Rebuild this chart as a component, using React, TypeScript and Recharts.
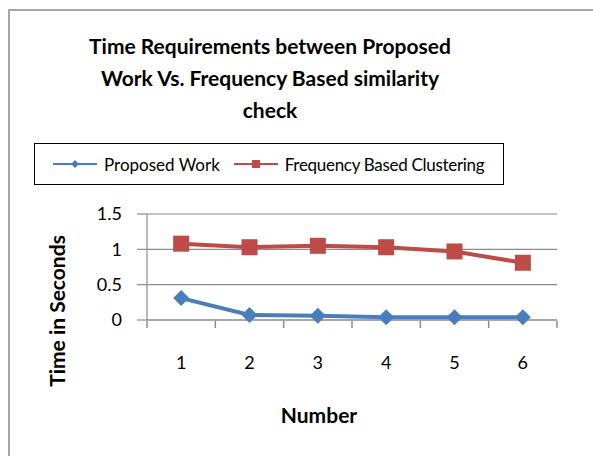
import React from "react";
import { CartesianGrid, Label, Line, LineChart, XAxis, YAxis } from "recharts";

// Values
const numbers = [1, 2, 3, 4, 5, 6];
const proposedWork = [0.31, 0.07, 0.06, 0.04, 0.04, 0.04];
const frequencyBased = [1.08, 1.03, 1.05, 1.03, 0.97, 0.81];
const yTicks = [0, 0.5, 1, 1.5];
const xBoundaries = [0.5, 1.5, 2.5, 3.5, 4.5, 5.5, 6.5];

const FONT = "Lato, 'Open Sans', sans-serif";
const BLUE = "#4a7ebb";
const RED = "#be4b48";
const GRID = "#8c8c8c";

const data = numbers.map((n, i) => ({
  n,
  proposed: proposedWork[i],
  frequency: frequencyBased[i],
}));

const Diamond = (props: any) => {
  const { cx, cy, size = 8, fill } = props;
  if (cx == null || cy == null) return null;
  return (
    <path
      d={`M${cx},${cy - size} L${cx + size},${cy} L${cx},${cy + size} L${cx - size},${cy} Z`}
      fill={fill}
    />
  );
};

const Square = (props: any) => {
  const { cx, cy, size = 8, fill } = props;
  if (cx == null || cy == null) return null;
  return <rect x={cx - size} y={cy - size} width={size * 2} height={size * 2} fill={fill} />;
};

// rotated y-axis title, sitting a bit lower than the plot centre like the original
const YTitle = (props: any) => {
  const vb = props.viewBox || {};
  const x = vb.x + 19;
  const y = vb.y + vb.height / 2 + 44;
  return (
    <text
      x={x}
      y={y}
      transform={`rotate(-90, ${x}, ${y})`}
      textAnchor="middle"
      dominantBaseline="central"
      fill="#000"
      fontSize={21}
      fontWeight={700}
      fontFamily={FONT}
    >
      Time in Seconds
    </text>
  );
};

const LegendBox = () => (
  <div
    style={{
      position: "absolute",
      left: 34,
      top: 143,
      width: 470,
      height: 42,
      border: "1.5px solid #000",
      boxSizing: "border-box",
      display: "flex",
      alignItems: "center",
      fontFamily: FONT,
      fontSize: 17,
      color: "#000",
    }}
  >
    <svg width={46} height={20} style={{ marginLeft: 18 }}>
      <line x1={0} y1={10} x2={44} y2={10} stroke={BLUE} strokeWidth={2} />
      <Diamond cx={22} cy={10} size={4} fill={BLUE} />
    </svg>
    <span style={{ marginLeft: 5 }}>Proposed Work</span>
    <svg width={46} height={20} style={{ marginLeft: 14 }}>
      <line x1={0} y1={10} x2={44} y2={10} stroke={RED} strokeWidth={2} />
      <Square cx={22} cy={10} size={4} fill={RED} />
    </svg>
    <span style={{ marginLeft: 5, letterSpacing: -0.3 }}>Frequency Based Clustering</span>
  </div>
);

export default function App() {
  return (
    <div
      style={{
        position: "absolute",
        left: 0,
        top: 0,
        width: 593,
        height: 456,
        overflow: "hidden",
        background: "#fff",
      }}
    >
      <div
        style={{
          position: "absolute",
          left: 8,
          top: 9,
          width: 620,
          height: 480,
          border: "2px solid #a6a6a6",
        }}
      />
      <LineChart
        width={593}
        height={456}
        data={data}
        margin={{ top: 214, right: 36, bottom: 106, left: 37 }}
        style={{ position: "absolute", left: 0, top: 0 }}
      >
        <CartesianGrid vertical={false} stroke={GRID} strokeWidth={1.2} />
        <XAxis
          dataKey="n"
          type="number"
          domain={[0.5, 6.5]}
          ticks={numbers}
          axisLine={{ stroke: GRID, strokeWidth: 1.2 }}
          tickLine={false}
          tickSize={0}
          tickMargin={36}
          height={1}
          tick={{ fill: "#000", fontSize: 18, fontFamily: FONT }}
        >
          <Label
            value="Number"
            position="bottom"
            offset={87}
            dx={-33}
            style={{ fill: "#000", fontSize: 21, fontWeight: 700, fontFamily: FONT }}
          />
        </XAxis>
        {/* second axis only for the tick marks between categories */}
        <XAxis
          xAxisId="bounds"
          dataKey="n"
          type="number"
          domain={[0.5, 6.5]}
          ticks={xBoundaries}
          axisLine={false}
          tickLine={{ stroke: GRID, strokeWidth: 1.5 }}
          tickSize={7}
          tickFormatter={() => ""}
          height={29}
        />
        <YAxis
          domain={[0, 1.5]}
          ticks={yTicks}
          width={110}
          axisLine={{ stroke: GRID, strokeWidth: 1.2 }}
          tickLine={{ stroke: GRID, strokeWidth: 1.2 }}
          tickSize={10}
          tickMargin={15}
          tick={{ fill: "#000", fontSize: 18, fontFamily: FONT }}
        >
          <Label content={<YTitle />} />
        </YAxis>
        <Line
          xAxisId={0}
          dataKey="proposed"
          stroke={BLUE}
          strokeWidth={4}
          dot={<Diamond size={8} fill={BLUE} />}
          isAnimationActive={false}
        />
        <Line
          xAxisId={0}
          dataKey="frequency"
          stroke={RED}
          strokeWidth={4}
          dot={<Square size={8} fill={RED} />}
          isAnimationActive={false}
        />
      </LineChart>
      <div
        style={{
          position: "absolute",
          left: 60,
          top: 30,
          width: 420,
          textAlign: "center",
          fontFamily: FONT,
          fontWeight: 700,
          fontSize: 21,
          lineHeight: "32px",
          color: "#000",
        }}
      >
        Time Requirements between Proposed
        <br />
        Work Vs. Frequency Based similarity
        <br />
        check
      </div>
      <LegendBox />
    </div>
  );
}
